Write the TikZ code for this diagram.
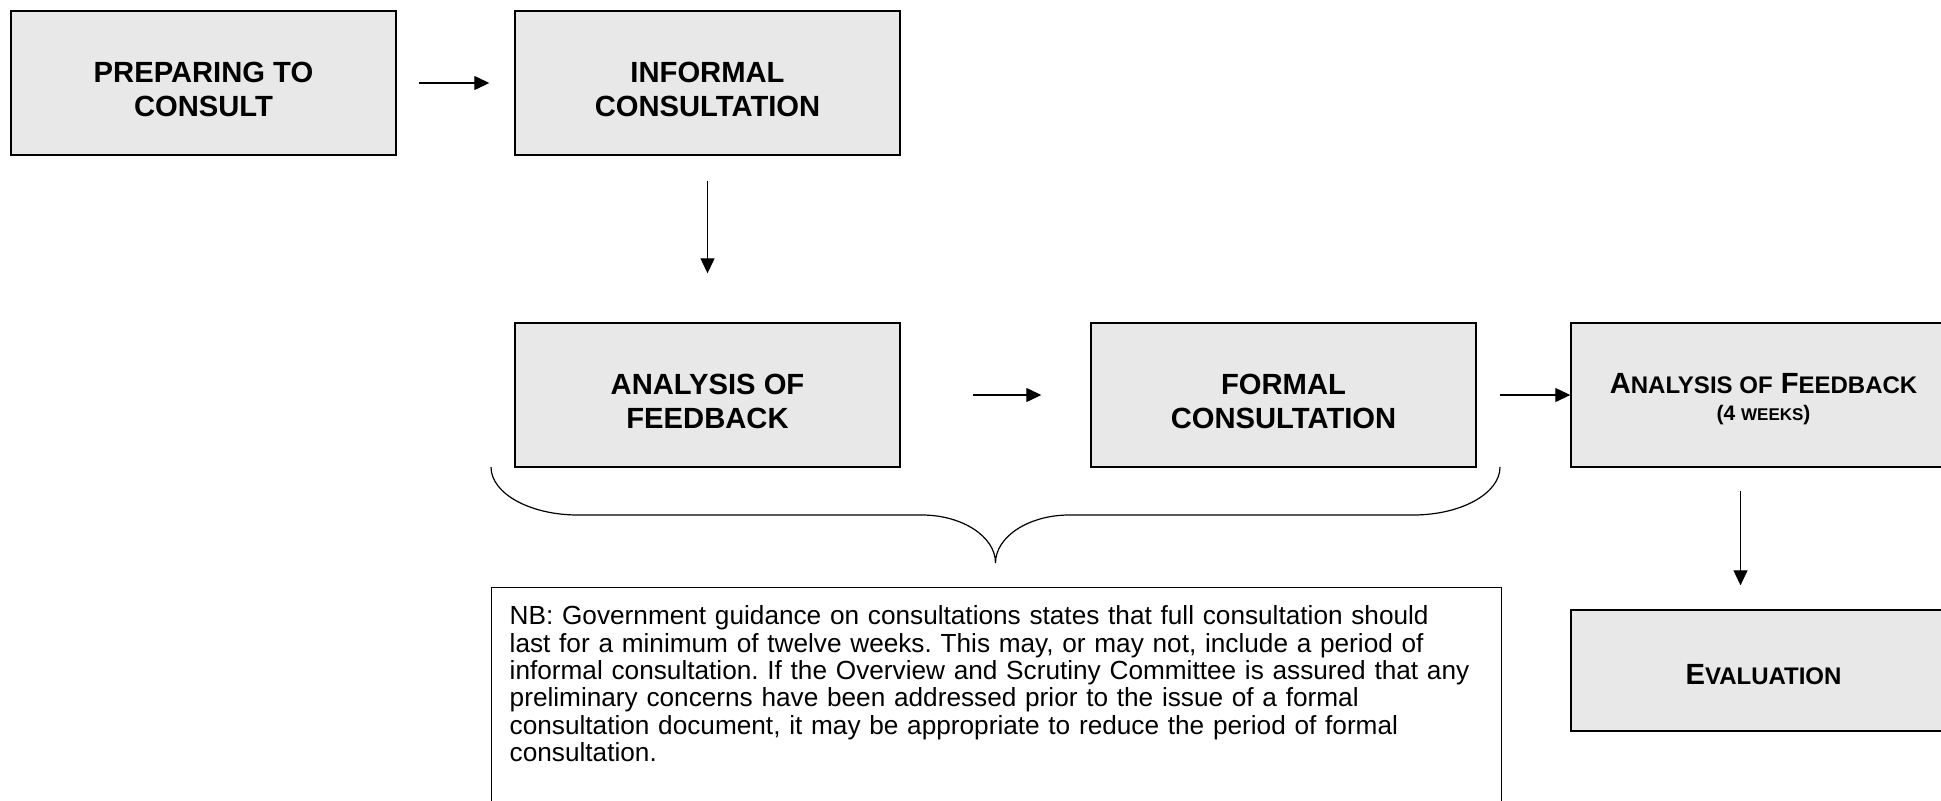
\documentclass[tikz,border=0pt]{standalone}
\usepackage{fontspec}
\setmainfont{Liberation Sans}
\usetikzlibrary{arrows.meta,positioning}
\definecolor{boxgray}{RGB}{232,232,232}
\newcommand{\lowcaps}[1]{{\fontsize{12}{17}\selectfont #1}}
\newcommand{\boxstrut}[1][16.5pt]{\rule{0pt}{#1}}
\frenchspacing

\begin{document}
\begin{tikzpicture}[x=0.5pt, y=-0.5pt, every node/.style={font=\fontsize{14.6}{17}\selectfont\bfseries}]

    % Styles for the consultation stages
    \tikzset{
        stagebox/.style={draw=black, line width=0.7pt, fill=boxgray, minimum width=192.5pt, minimum height=72pt, align=center, inner sep=0pt},
        notebox/.style={draw=black, line width=0.7pt, fill=white, anchor=north west, align=left, text width=487pt, inner xsep=9pt, inner ysep=9pt, text depth=110pt, font=\fontsize{13.1}{13.7}\selectfont},
        flow/.style={-{Triangle[length=7.5pt,width=7pt]}, line width=0.6pt, black},
        brace/.style={line width=0.6pt, black}
    }

    \useasboundingbox (0,0) rectangle (1941,800);

    % Stages of the process
    \node[stagebox] (prep) at (203.5,83) {\boxstrut PREPARING TO\\CONSULT};

    \node[stagebox, right=58.8pt of prep] (informal) {\boxstrut INFORMAL\\CONSULTATION};

    \node[stagebox, below=83.3pt of informal] (feedback) {\boxstrut ANALYSIS OF\\FEEDBACK};

    \node[stagebox, right=94.8pt of feedback] (formal) {\boxstrut FORMAL\\CONSULTATION};

    \node[stagebox, right=46.8pt of formal] (finalfeedback) {\boxstrut[14pt]A\lowcaps{NALYSIS OF} F\lowcaps{EEDBACK}\\[-3.5pt]
        {\fontsize{10.5}{17}\selectfont (4 {\fontsize{8.5}{17}\selectfont WEEKS})}};

    \node[stagebox, minimum height=60.5pt, below=70.8pt of finalfeedback] (evaluation) {\boxstrut[14pt]E\lowcaps{VALUATION}};

    % Note on the consultation period
    \node[notebox] (note) at (491,587) {NB: Government guidance on consultations states that full consultation should\\
        last for a minimum of twelve weeks. This may, or may not, include a period of\\
        informal consultation. If the Overview and Scrutiny Committee is assured that any\\
        preliminary concerns have been addressed prior to the issue of a formal\\
        consultation document, it may be appropriate to reduce the period of formal\\
        consultation.};

    % Flow between stages
    \draw[flow, shorten <=11pt, shorten >=12.5pt] (prep) -- (informal);
    \draw[flow, shorten <=12.5pt, shorten >=24.5pt] (informal) -- (feedback);
    \draw[flow, shorten <=36pt, shorten >=24.5pt] (feedback) -- (formal);
    \draw[flow, shorten <=11.5pt] (formal) -- (finalfeedback);
    \draw[flow, shorten <=11.5pt, shorten >=12pt] ([xshift=-11.5pt]finalfeedback.south) -- ([xshift=-11.5pt]evaluation.north);

    % Brace over the note
    \draw[brace] (491,467) .. controls (491,493.5) and (530,515) .. (578,515) -- (922,515)
        .. controls (962,515) and (995.5,536.5) .. (995.5,563)
        .. controls (995.5,536.5) and (1029,515) .. (1069,515) -- (1413,515)
        .. controls (1461,515) and (1500,493.5) .. (1500,467);

\end{tikzpicture}
\end{document}
